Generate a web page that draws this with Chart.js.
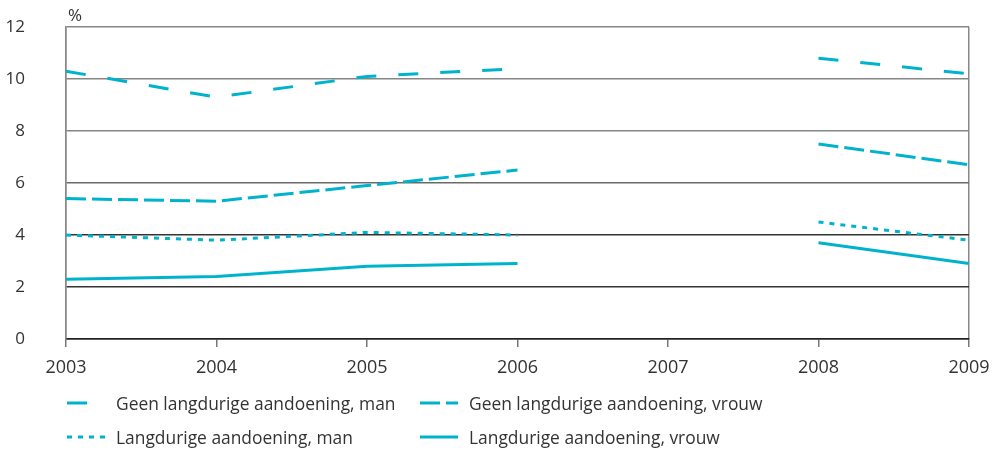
<!DOCTYPE html>
<html>
<head>
<meta charset="utf-8">
<script src="https://cdn.jsdelivr.net/npm/chart.js@4/dist/chart.umd.min.js"></script>
<style>
  html, body { margin: 0; padding: 0; background: #fff; }
  #wrap { position: relative; width: 996px; height: 451px; font-family: "Open Sans", sans-serif; }
  #chart { position: absolute; left: 0; top: 0; }
  .leg { position: absolute; display: flex; align-items: center; font-size: 17.4px; color: #333; white-space: nowrap; }
  .leg svg { margin-right: 11px; }
</style>
</head>
<body>
<div id="wrap">
  <canvas id="chart" width="996" height="451"></canvas>
  <div id="legend"></div>
</div>
<script>
// Years on the x axis (no survey in 2007)
const years = ['2003', '2004', '2005', '2006', '2007', '2008', '2009'];

// Percentages per group
const geenMan      = [10.3, 9.3, 10.1, 10.4, null, 10.8, 10.2];
const geenVrouw    = [5.4, 5.3, 5.9, 6.5, null, 7.5, 6.7];
const langMan      = [4.0, 3.8, 4.1, 4.0, null, 4.5, 3.8];
const langVrouw    = [2.3, 2.4, 2.8, 2.9, null, 3.7, 2.9];

const seriesNames = [
  'Geen langdurige aandoening, man',
  'Geen langdurige aandoening, vrouw',
  'Langdurige aandoening, man',
  'Langdurige aandoening, vrouw'
];

const yTicks = [0, 2, 4, 6, 8, 10, 12];

const CYAN = '#00b3cc';
const dashes = [[20, 22], [20, 6], [5, 6], []];
const values = [geenMan, geenVrouw, langMan, langVrouw];

const datasets = values.map((v, i) => ({
  label: seriesNames[i],
  data: v,
  borderColor: CYAN,
  borderWidth: 3,
  borderDash: dashes[i],
  pointRadius: 0,
  fill: false,
  spanGaps: false,
  tension: 0
}));

// Small "%" unit label above the y axis
const unitLabel = {
  id: 'unitLabel',
  afterDraw(chart) {
    const { ctx, chartArea } = chart;
    ctx.save();
    ctx.font = '17px "Open Sans", sans-serif';
    ctx.fillStyle = '#333';
    ctx.textAlign = 'left';
    ctx.textBaseline = 'alphabetic';
    ctx.fillText('%', chartArea.left + 2, chartArea.top - 6);
    ctx.restore();
  }
};

const gridColor = (v) => {
  if (v >= 8) return '#858585';
  if (v >= 6) return '#6a6a6a';
  return '#333333';
};

new Chart(document.getElementById('chart'), {
  type: 'line',
  data: { labels: years, datasets },
  options: {
    responsive: false,
    animation: false,
    layout: { padding: { top: 27, right: 27, bottom: 62, left: 0 } },
    plugins: { legend: { display: false }, tooltip: { enabled: false } },
    scales: {
      x: {
        offset: false,
        afterFit(scale) { scale.height = 50; },
        border: { display: true, color: '#222', width: 1.5 },
        grid: {
          color: (c) => (c.index === 0 || c.index === years.length - 1) ? '#888' : 'rgba(0,0,0,0)',
          tickColor: '#777',
          lineWidth: 1.5,
          tickLength: 8,
          drawOnChartArea: true
        },
        ticks: {
          color: '#333',
          font: { family: '"Open Sans", sans-serif', size: 18, lineHeight: 2.3 },
          padding: 0,
          maxRotation: 0
        }
      },
      y: {
        min: 0,
        max: 12,
        afterFit(scale) { scale.width = 66; },
        afterBuildTicks(scale) { scale.ticks = yTicks.map(v => ({ value: v })); },
        border: { display: true, color: '#888', width: 1.5 },
        grid: {
          color: (c) => gridColor(c.tick.value),
          lineWidth: 1.5,
          drawTicks: true,
          tickLength: 41,
          tickColor: 'rgba(0,0,0,0)'
        },
        ticks: {
          color: '#333',
          font: { family: '"Open Sans", sans-serif', size: 17 },
          padding: 0
        }
      }
    }
  },
  plugins: [unitLabel]
});

// Legend beneath the chart, two columns
const legendPos = [
  { x: 67, y: 403 }, { x: 420, y: 403 },
  { x: 67, y: 437 }, { x: 420, y: 437 }
];
const legend = document.getElementById('legend');
seriesNames.forEach((name, i) => {
  const el = document.createElement('div');
  el.className = 'leg';
  el.style.left = legendPos[i].x + 'px';
  el.style.top = (legendPos[i].y - 12) + 'px';
  el.style.height = '24px';
  const dash = dashes[i].length ? `stroke-dasharray="${dashes[i].join(' ')}"` : '';
  el.innerHTML = `<svg width="38" height="6"><line x1="0" y1="3" x2="38" y2="3" stroke="${CYAN}" stroke-width="3" ${dash}/></svg><span>${name}</span>`;
  legend.appendChild(el);
});
</script>
</body>
</html>
